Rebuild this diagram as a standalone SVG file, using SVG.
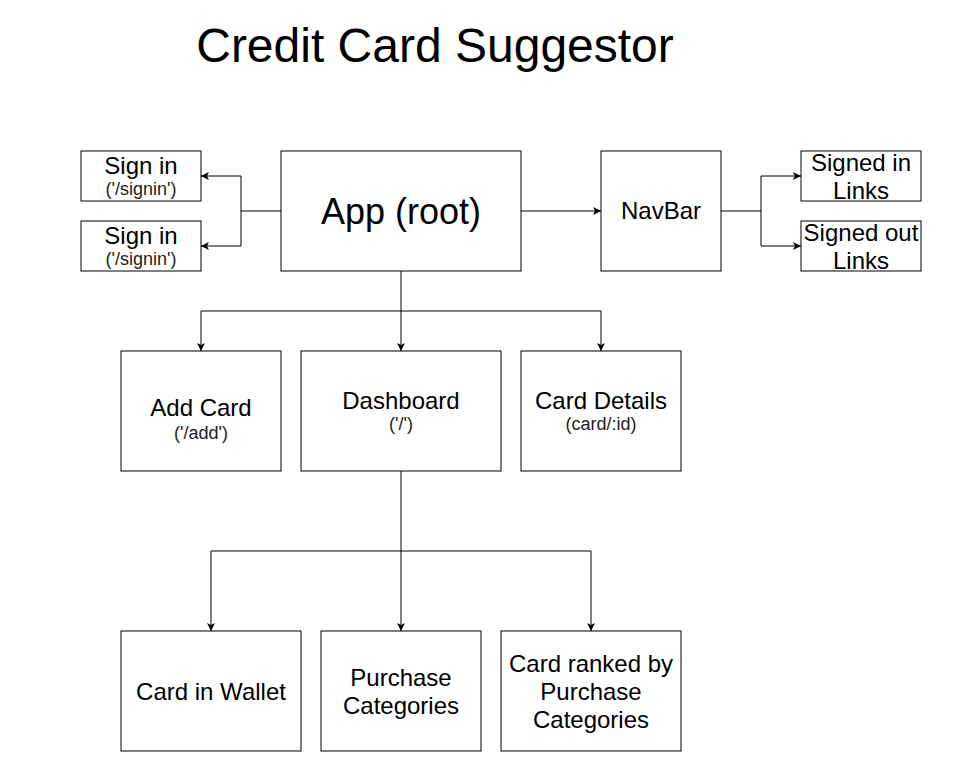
<svg xmlns="http://www.w3.org/2000/svg" width="968" height="779" viewBox="0 0 968 779">
<style>
.box{fill:#fff;stroke:#000;stroke-width:1}
.t{font-family:"Liberation Sans",Arial,sans-serif;fill:#000;text-anchor:middle}
.m{font-size:24px}
.s{font-size:18px;fill:#222}
.c{fill:none;stroke:#000;stroke-width:1}
</style>
<defs>
<marker id="ah" viewBox="0 0 10 10" refX="10" refY="5" markerWidth="8" markerHeight="8" markerUnits="userSpaceOnUse" orient="auto">
<path d="M0,0 L10,5 L0,10 L2.5,5 Z" fill="#000"/>
</marker>
</defs>
<rect width="968" height="779" fill="#fff"/>
<text class="t" x="435" y="62" font-size="48">Credit Card Suggestor</text>
<g id="connectors">
<path class="c" d="M281,211 H241 V176 H201" marker-end="url(#ah)"/>
<path class="c" d="M241,211 V246 H201" marker-end="url(#ah)"/>
<path class="c" d="M521,211 H601" marker-end="url(#ah)"/>
<path class="c" d="M721,211 H761 V176 H801" marker-end="url(#ah)"/>
<path class="c" d="M761,211 V246 H801" marker-end="url(#ah)"/>
<path class="c" d="M401,271 V351" marker-end="url(#ah)"/>
<path class="c" d="M401,311 H201 V351" marker-end="url(#ah)"/>
<path class="c" d="M401,311 H601 V351" marker-end="url(#ah)"/>
<path class="c" d="M401,471 V631" marker-end="url(#ah)"/>
<path class="c" d="M401,551 H211 V631" marker-end="url(#ah)"/>
<path class="c" d="M401,551 H591 V631" marker-end="url(#ah)"/>
</g>
<g id="signin1"><rect class="box" x="81" y="151" width="120" height="50"/><text class="t m" x="141" y="174">Sign in</text><text class="t s" x="141" y="195">('/signin')</text></g>
<g id="signin2"><rect class="box" x="81" y="221" width="120" height="50"/><text class="t m" x="141" y="244">Sign in</text><text class="t s" x="141" y="265">('/signin')</text></g>
<g id="app"><rect class="box" x="281" y="151" width="240" height="120"/><text class="t" x="401" y="224" font-size="36">App (root)</text></g>
<g id="navbar"><rect class="box" x="601" y="151" width="120" height="120"/><text class="t m" x="661" y="219">NavBar</text></g>
<g id="signedin"><rect class="box" x="801" y="151" width="120" height="50"/><text class="t m" x="861" y="171">Signed in</text><text class="t m" x="861" y="199">Links</text></g>
<g id="signedout"><rect class="box" x="801" y="221" width="120" height="50"/><text class="t m" x="861" y="241">Signed out</text><text class="t m" x="861" y="269">Links</text></g>
<g id="addcard"><rect class="box" x="121" y="351" width="160" height="120"/><text class="t m" x="201" y="416">Add Card</text><text class="t s" x="201" y="439">('/add')</text></g>
<g id="dashboard"><rect class="box" x="301" y="351" width="200" height="120"/><text class="t m" x="401" y="409">Dashboard</text><text class="t s" x="401" y="430">('/')</text></g>
<g id="carddetails"><rect class="box" x="521" y="351" width="160" height="120"/><text class="t m" x="601" y="409">Card Details</text><text class="t s" x="601" y="430">(card/:id)</text></g>
<g id="wallet"><rect class="box" x="121" y="631" width="180" height="120"/><text class="t m" x="211" y="700">Card in Wallet</text></g>
<g id="purchase"><rect class="box" x="321" y="631" width="160" height="120"/><text class="t m" x="401" y="686">Purchase</text><text class="t m" x="401" y="714">Categories</text></g>
<g id="ranked"><rect class="box" x="501" y="631" width="180" height="120"/><text class="t m" x="591" y="672">Card ranked by</text><text class="t m" x="591" y="700">Purchase</text><text class="t m" x="591" y="728">Categories</text></g>
</svg>
